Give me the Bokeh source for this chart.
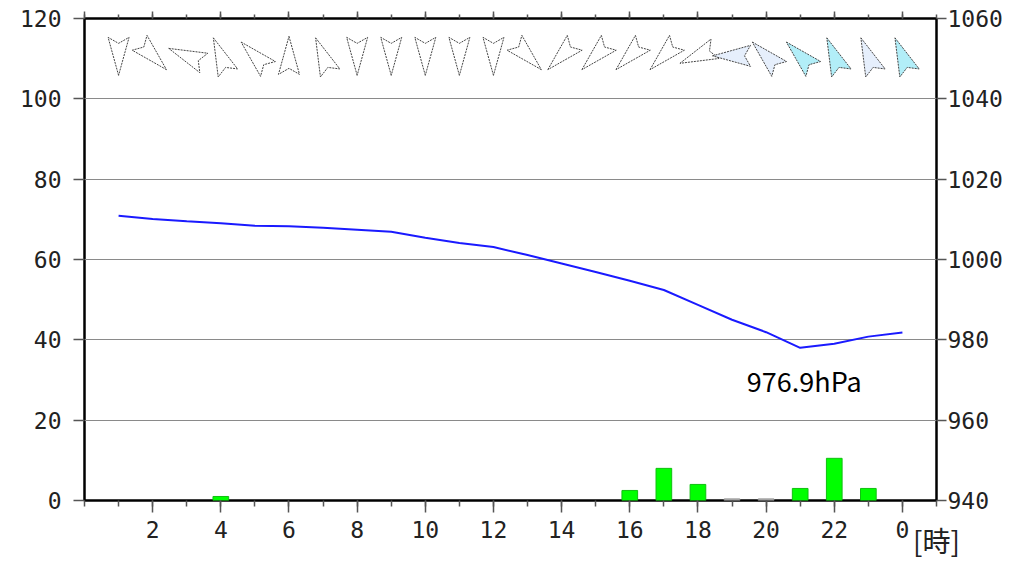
import math
from bokeh.plotting import figure
from bokeh.models import Range1d, LinearAxis, FixedTicker, Label, ColumnDataSource
from bokeh.embed import file_html
from bokeh.resources import INLINE

# ---------------- data ----------------
hours = list(range(1, 25))
pressure_hpa = [1010.9, 1010.1, 1009.5, 1009.0, 1008.4, 1008.3, 1007.9, 1007.4,
                1006.9, 1005.4, 1004.1, 1003.1, 1001.1, 999.0, 996.9, 994.7,
                992.4, 988.7, 985.0, 981.9, 978.0, 979.0, 980.8, 981.8]
precip_mm = [0, 0, 0, 1.0, 0, 0, 0, 0, 0, 0, 0, 0,
             0, 0, 0, 2.5, 8.0, 4.0, 0.4, 0.4, 3.0, 10.5, 3.0, 0]
# wind direction (degrees, direction the wind blows FROM)
wind_from_deg = [0, 315, 112.5, 157.5, 135, 180, 157.5, 0, 0, 0, 0, 0,
                 315, 45, 45, 45, 45, 67.5, 90, 135, 135, 157.5, 157.5, 157.5]
# wind speed class (0 weak, 1 moderate, 2 strong)
wind_class = [0] * 18 + [1, 1, 2, 2, 1, 2]
min_pressure_text = "976.9hPa"
min_pressure_hour = 21
hour_ticks = list(range(2, 25, 2))
hour_tick_labels = {24: "0"}
left_ticks = [0, 20, 40, 60, 80, 100, 120]
right_ticks = [940, 960, 980, 1000, 1020, 1040, 1060]
x_unit_text = "[時]"

# ---------------- figure ----------------
FW, FH = 852, 482
XR = (0, 25)
YR = (0, 120)
p = figure(frame_width=FW, frame_height=FH,
           x_range=Range1d(*XR), y_range=Range1d(*YR),
           output_backend="svg", toolbar_location=None,
           min_border_left=84, min_border_right=80,
           min_border_top=18, min_border_bottom=60)
p.extra_y_ranges = {"hpa": Range1d(940, 1060)}
p.background_fill_color = "white"
p.border_fill_color = "white"
p.outline_line_color = "black"
p.outline_line_width = 2.5

TICK_FONT = "DejaVu Sans Mono"
TICK_SIZE = "23px"
TICK_COLOR = "#222222"

def style_axis(ax):
    ax.axis_line_color = None
    ax.major_tick_in = 0
    ax.minor_tick_in = 0
    ax.major_tick_line_color = "#555555"
    ax.minor_tick_line_color = "#555555"
    ax.major_tick_line_width = 1.5
    ax.minor_tick_line_width = 1.5
    ax.major_label_text_font = TICK_FONT
    ax.major_label_text_font_size = TICK_SIZE
    ax.major_label_text_color = TICK_COLOR

# bottom axis
xa = p.xaxis[0]
style_axis(xa)
xa.ticker = FixedTicker(ticks=hour_ticks, minor_ticks=list(range(0, 26)))
xa.major_label_overrides = hour_tick_labels
xa.major_tick_out = 12
xa.minor_tick_out = 6
xa.major_label_standoff = 8
xa.axis_label = x_unit_text
xa.axis_label_text_font = "Noto Sans CJK JP"
xa.axis_label_text_font_size = "28px"
xa.axis_label_text_font_style = "normal"
xa.axis_label_text_color = "#222222"
xa.axis_label_standoff = -21
if hasattr(xa, "axis_label_align"):
    xa.axis_label_align = "end"
xa.axis_label_text_align = "left"

# top axis (ticks only, labels not painted)
ta = LinearAxis(ticker=FixedTicker(ticks=list(range(0, 25, 2)), minor_ticks=list(range(0, 26))))
style_axis(ta)
ta.major_tick_out = 7
ta.minor_tick_out = 4
ta.major_label_text_font_size = "1px"
ta.major_label_text_color = None
ta.major_label_standoff = 0
p.add_layout(ta, "above")

# left axis
ya = p.yaxis[0]
style_axis(ya)
ya.ticker = FixedTicker(ticks=left_ticks, minor_ticks=[])
ya.major_tick_out = 11
ya.major_label_standoff = 12

# right axis
ra = LinearAxis(y_range_name="hpa", ticker=FixedTicker(ticks=right_ticks, minor_ticks=[]))
style_axis(ra)
ra.major_tick_out = 10
ra.major_label_standoff = 1
p.add_layout(ra, "right")

p.xgrid.visible = False
p.ygrid.ticker = FixedTicker(ticks=left_ticks, minor_ticks=[])
p.ygrid.grid_line_color = "#8a8a8a"
p.ygrid.grid_line_width = 1

# precipitation bars (only hours with a value)
bx = [h for h, v in zip(hours, precip_mm) if v > 0]
bv = [v for v in precip_mm if v > 0]
bar_fill = ["#00ff00" if v >= 0.5 else "#b0b0b0" for v in bv]
bar_line = ["#10c010" if v >= 0.5 else "#909090" for v in bv]
bsrc = ColumnDataSource(dict(x=bx, top=bv, fc=bar_fill, lc=bar_line))
p.vbar(x="x", top="top", bottom=0, width=0.46, fill_color="fc", line_color="lc",
       line_width=1, source=bsrc)

# pressure line
p.line(hours, pressure_hpa, y_range_name="hpa", line_color="#1a1aff", line_width=2)

# wind arrows
px_per_x = FW / (XR[1] - XR[0])
px_per_y = FH / (YR[1] - YR[0])
arrow_y = 110.7
shape = [(0, 19.5), (10.5, -18.5), (0, -12.5), (-10.5, -18.5)]
palette = {0: "#ffffff", 1: "#e6effc", 2: "#b2eef8"}
xs, ys, fills = [], [], []
for h, d, c in zip(hours, wind_from_deg, wind_class):
    th = math.radians((d + 180) % 360)
    s, co = math.sin(th), math.cos(th)
    xx, yy = [], []
    for a, b in shape:
        dx = a * co + b * s
        dy = -a * s + b * co
        xx.append(h + dx / px_per_x)
        yy.append(arrow_y + dy / px_per_y)
    xs.append(xx)
    ys.append(yy)
    fills.append(palette[c])
p.patches(xs, ys, fill_color=fills, line_color="#444444", line_width=1,
          line_dash="2 1")

# min pressure label
pmin = pressure_hpa[hours.index(min_pressure_hour)]
p.add_layout(Label(x=min_pressure_hour + 0.12, y=pmin - 3.3, y_range_name="hpa",
                   text=min_pressure_text, text_align="center", text_baseline="top",
                   text_font="Noto Sans CJK JP", text_font_size="27px",
                   text_color="black"))

open("out.html", "w").write(file_html(p, INLINE))
